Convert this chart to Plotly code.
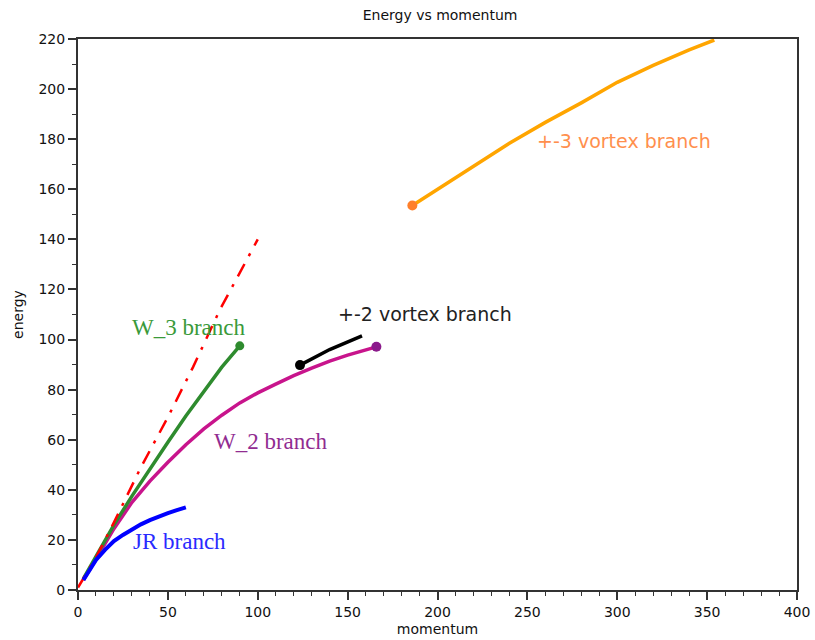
import plotly.graph_objects as go

# ---- data ----
red_x = [0, 10, 20, 35, 50, 64, 79, 100]
red_y = [1, 13, 27, 49, 69, 89, 112, 140]

w3_x = [3, 10, 20, 30, 40, 50, 60, 70, 80, 90]
w3_y = [4.5, 13.5, 26, 37.5, 48.5, 59, 69.5, 79.5, 89, 97.5]

w2_x = [3, 10, 20, 30, 40, 50, 60, 70, 80, 90, 100, 110, 120, 130, 140, 150, 160, 166]
w2_y = [4, 12.5, 24.5, 35, 43.5, 51, 58, 64.3, 69.8, 74.7, 78.7, 82.2, 85.6, 88.6, 91.4, 93.8, 95.9, 97.1]

jr_x = [3, 6, 10, 15, 20, 25, 30, 35, 40, 45, 50, 55, 60]
jr_y = [4, 7.5, 12, 16, 19.5, 22, 24.3, 26.2, 27.9, 29.4, 30.7, 31.9, 33]

v2_x = [123.5, 140, 158]
v2_y = [89.8, 96, 101.5]

v3_x = [186, 200, 220, 240, 260, 280, 300, 320, 340, 354]
v3_y = [153.5, 160, 169.3, 178.4, 186.7, 194.5, 202.7, 209.5, 215.7, 219.6]

labels = [
    ("W_3 branch", 62, 104.8, "#3a9a3a", "Liberation Serif", 23),
    ("W_2 branch", 107.2, 59.1, "#912c91", "Liberation Serif", 23),
    ("JR branch", 56.5, 19.5, "#2a2aff", "Liberation Serif", 23),
    ("+-2 vortex branch", 192.8, 110.1, "#222222", "DejaVu Sans", 19),
    ("+-3 vortex branch", 303.6, 179.3, "#ff8f4d", "DejaVu Sans", 19),
]

fig = go.Figure()

fig.add_trace(go.Scatter(x=w2_x, y=w2_y, mode="lines", line=dict(color="#c8148c", width=3.5)))
fig.add_trace(go.Scatter(x=[w2_x[-1]], y=[w2_y[-1]], mode="markers", marker=dict(color="#8b1a8b", size=10)))
fig.add_trace(go.Scatter(x=w3_x, y=w3_y, mode="lines", line=dict(color="#2e8b2e", width=3.5)))
fig.add_trace(go.Scatter(x=[w3_x[-1]], y=[w3_y[-1]], mode="markers", marker=dict(color="#2e8b2e", size=9)))
fig.add_trace(go.Scatter(x=red_x, y=red_y, mode="lines", line=dict(color="#ff0000", width=2.5, dash="14px,9px,3px,9px")))
fig.add_trace(go.Scatter(x=jr_x, y=jr_y, mode="lines", line=dict(color="#0000ff", width=4)))
fig.add_trace(go.Scatter(x=v2_x, y=v2_y, mode="lines", line=dict(color="#000000", width=3.5)))
fig.add_trace(go.Scatter(x=[v2_x[0]], y=[v2_y[0]], mode="markers", marker=dict(color="#000000", size=10)))
fig.add_trace(go.Scatter(x=v3_x, y=v3_y, mode="lines", line=dict(color="#ffa500", width=3.5)))
fig.add_trace(go.Scatter(x=[v3_x[0]], y=[v3_y[0]], mode="markers", marker=dict(color="#ff7f2a", size=10)))

for text, x, y, color, family, size in labels:
    fig.add_annotation(x=x, y=y, xref="x", yref="y", text=text, showarrow=False,
                       font=dict(color=color, family=family, size=size))

axis_common = dict(
    showgrid=False, zeroline=False, showline=True, linecolor="#333333", linewidth=2,
    mirror=True, ticks="outside", ticklen=8, tickwidth=1.5, tickcolor="#333333",
    tickfont=dict(family="DejaVu Sans", size=14, color="#111111"),
    ticklabeloverflow="allow",
)

fig.update_layout(
    width=815, height=640,
    margin=dict(l=78, r=5, t=39, b=48),
    paper_bgcolor="white", plot_bgcolor="white",
    showlegend=False,
    title=dict(text="Energy vs momentum", x=0.54, xanchor="center", y=0.977, yanchor="middle",
               font=dict(family="DejaVu Sans", size=14, color="#111111")),
    xaxis=dict(range=[0, 400], tick0=0, dtick=50,
               minor=dict(ticks="outside", ticklen=4, dtick=10, tickcolor="#333333", tickwidth=1.2),
               title=dict(text="momentum", font=dict(family="DejaVu Sans", size=14, color="#111111"), standoff=5),
               **axis_common),
    yaxis=dict(range=[0, 220], tick0=0, dtick=20,
               minor=dict(ticks="outside", ticklen=4, dtick=10, tickcolor="#333333", tickwidth=1.2),
               title=dict(text="energy", font=dict(family="DejaVu Sans", size=14, color="#111111"), standoff=12),
               **axis_common),
)

fig.write_html("out.html")
